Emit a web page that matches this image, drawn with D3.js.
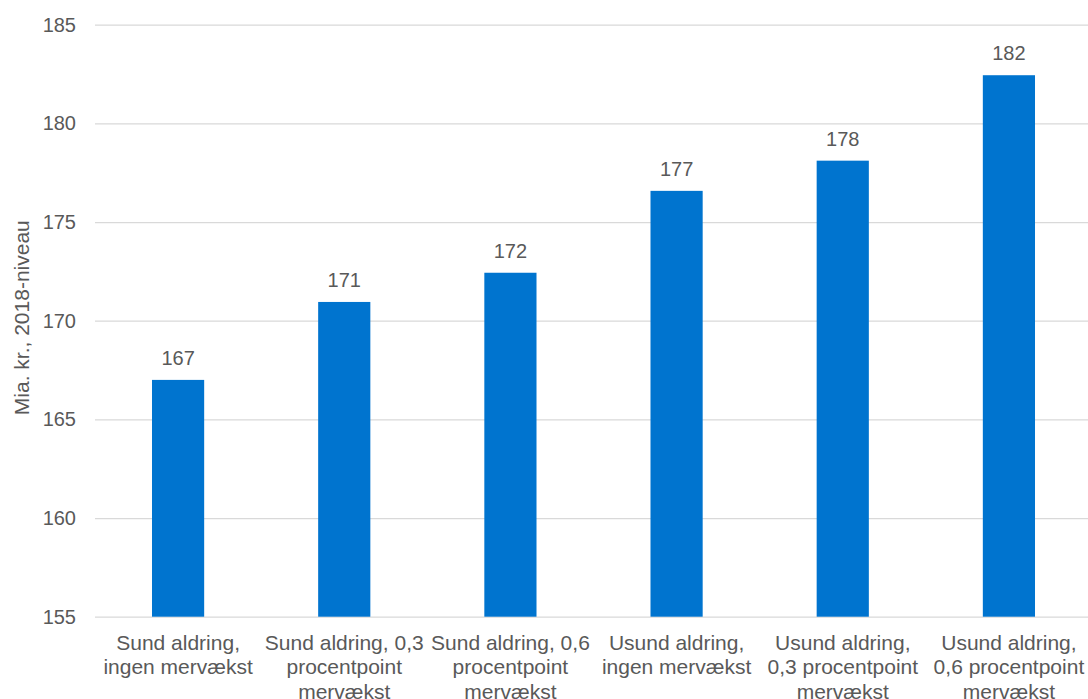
<!DOCTYPE html>
<html>
<head>
<meta charset="utf-8">
<script src="https://cdn.jsdelivr.net/npm/d3@7"></script>
<style>
  body { margin: 0; background: #fff; }
  svg text { font-family: "Liberation Sans", Arial, sans-serif; fill: #595959; }
</style>
</head>
<body>
<svg id="chart" width="1088" height="699"></svg>
<script>
// data
const categories = [
    "Sund aldring, ingen mervækst",
    "Sund aldring, 0,3 procentpoint mervækst",
    "Sund aldring, 0,6 procentpoint mervækst",
    "Usund aldring, ingen mervækst",
    "Usund aldring, 0,3 procentpoint mervækst",
    "Usund aldring, 0,6 procentpoint mervækst"
];
const values = [167.0, 170.95, 172.43, 176.58, 178.11, 182.44];
// category labels as they wrap under the bars
const categoryLines = [
    ["Sund aldring,", "ingen mervækst"],
    ["Sund aldring, 0,3", "procentpoint", "mervækst"],
    ["Sund aldring, 0,6", "procentpoint", "mervækst"],
    ["Usund aldring,", "ingen mervækst"],
    ["Usund aldring,", "0,3 procentpoint", "mervækst"],
    ["Usund aldring,", "0,6 procentpoint", "mervækst"]
];
const yTicks = [155, 160, 165, 170, 175, 180, 185];
const yTitle = "Mia. kr., 2018-niveau";

//dimensions
const margin = { top: 24.7, left: 95, bottom: 82.3 };
const plotRight = 1092;
const height = 699;
const fontSize = 20;
const catFontSize = 21;

const svg = d3.select("#chart");

//scales
const x = d3.scaleBand()
    .domain(categories)
    .range([margin.left, plotRight])
    .paddingInner(0.686)
    .paddingOuter(0.343);

const y = d3.scaleLinear()
    .domain([155, 185])
    .range([height - margin.bottom, margin.top]);

//gridlines
const yAxis = d3.axisLeft(y)
    .tickValues(yTicks)
    .tickSize(-(plotRight - margin.left))
    .tickPadding(19)
    .tickFormat(d3.format("d"));

const yAxisG = svg.append("g")
    .attr("class", "y-axis")
    .attr("transform", "translate(" + margin.left + ",0)")
    .call(yAxis);
yAxisG.select(".domain").remove();
yAxisG.selectAll(".tick line")
    .attr("stroke", "#d9d9d9")
    .attr("stroke-width", 1.3);
yAxisG.selectAll(".tick text")
    .style("font-size", fontSize + "px")
    .attr("fill", "#595959");

//bars
svg.append("g")
    .attr("class", "bars")
    .selectAll("rect")
    .data(values)
    .join("rect")
        .attr("x", (d, i) => x(categories[i]))
        .attr("width", x.bandwidth())
        .attr("y", d => y(d))
        .attr("height", d => y(155) - y(d))
        .attr("fill", "#0074cf");

//value labels
svg.append("g")
    .attr("class", "value-labels")
    .selectAll("text")
    .data(values)
    .join("text")
        .attr("x", (d, i) => x(categories[i]) + x.bandwidth() / 2)
        .attr("y", d => y(d) - 15)
        .attr("text-anchor", "middle")
        .style("font-size", fontSize + "px")
        .text(d => Math.round(d));

//category labels
const catG = svg.append("g")
    .attr("class", "cat-labels")
    .selectAll("text")
    .data(categoryLines)
    .join("text")
        .attr("text-anchor", "middle")
        .style("font-size", catFontSize + "px")
        .attr("transform", (d, i) => "translate(" + (x(categories[i]) + x.bandwidth() / 2) + "," + (y(155) + 33) + ")");
catG.selectAll("tspan")
    .data(d => d)
    .join("tspan")
        .attr("x", 0)
        .attr("y", (d, i) => i * 24.5)
        .text(d => d);

//y title
svg.append("text")
    .attr("transform", "translate(29," + ((y(155) + y(185)) / 2 - 3) + ") rotate(-90)")
    .attr("text-anchor", "middle")
    .style("font-size", catFontSize + "px")
    .text(yTitle);
</script>
</body>
</html>
